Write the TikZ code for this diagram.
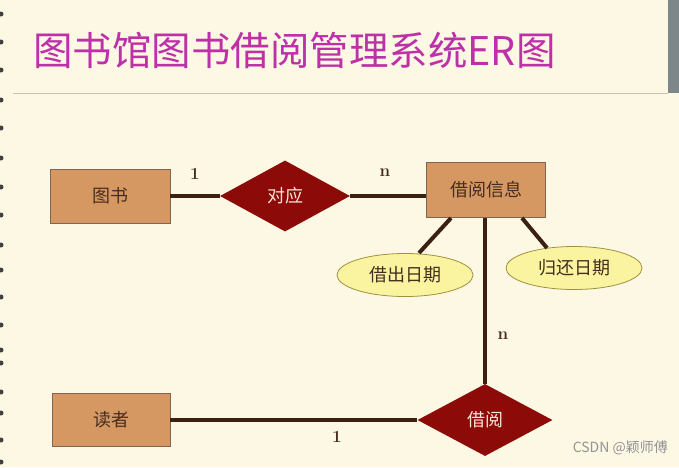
\documentclass[tikz,border=0pt]{standalone}
\usepackage{fontspec}
\newfontfamily\cjk{Noto Sans CJK SC}
\usetikzlibrary{shapes.geometric}
\definecolor{bgc}{RGB}{252,248,228}
\definecolor{titlec}{RGB}{190,48,168}
\definecolor{rulec}{RGB}{200,196,172}
\definecolor{entfill}{RGB}{214,152,98}
\definecolor{entdraw}{RGB}{130,100,80}
\definecolor{relfill}{RGB}{140,10,8}
\definecolor{reltext}{RGB}{248,228,215}
\definecolor{attfill}{RGB}{250,244,160}
\definecolor{attdraw}{RGB}{160,145,60}
\definecolor{linec}{RGB}{60,32,18}
\definecolor{textc}{RGB}{70,45,30}
\definecolor{stripc}{RGB}{125,135,138}
\tikzset{
  entity/.style={draw=entdraw, line width=0.8pt, fill=entfill, minimum width=#1, minimum height=54pt, inner sep=0pt, font=\cjk\fontsize{18}{20}\selectfont, text=textc},
  relation/.style={diamond, aspect=1.83, draw=none, fill=relfill, minimum width=132pt, minimum height=72pt, inner sep=0pt, font=\cjk\fontsize{18}{20}\selectfont, text=reltext},
  attribute/.style={ellipse, draw=attdraw, line width=0.8pt, fill=attfill, minimum width=136pt, minimum height=43pt, inner sep=0pt, font=\cjk\fontsize{18}{20}\selectfont, text=textc},
  conn/.style={draw=linec, line width=4pt},
  card/.style={font=\bfseries\fontsize{17}{18}\selectfont, text=textc, inner sep=0pt},
  dot/.style={fill=black!75, circle, inner sep=0pt, minimum size=5pt}
}
\begin{document}
\begin{tikzpicture}[x=1pt,y=-1pt]
\fill[bgc] (0,0) rectangle (679,467);
\useasboundingbox (0,0) rectangle (679,467);
% screenshot strip top right
\fill[stripc] (668,0) rectangle (679,93);
% binder dots
\foreach \yy in {14,42,70,100,128,158,187,215,245,270,297,325,350,363,392,413,440,462}
  \node[dot] at (1,\yy) {};
% title
\node[anchor=west, inner sep=0pt, text=titlec, font=\cjk\fontsize{39.5}{41}\selectfont] (title) at (33,50) {图书馆图书借阅管理系统ER图};
\draw[rulec, line width=1pt] (13,93) -- (668,93);
% entities
\node[entity=120pt] (book) at (110,196) {图书};
\node[entity=119pt, minimum height=55pt] (info) at (486,190) {借阅信息};
\node[entity=118pt, minimum height=53pt] (reader) at (111,420) {读者};
% relations
\node[relation, minimum width=130pt, minimum height=71pt] (dui) at (285,196) {对应};
\node[relation, minimum width=135pt, minimum height=72pt] (jy) at (485,420) {借阅};
% attributes
\node[attribute] (out) at (405,275) {借出日期};
\node[attribute] (ret) at (574,268) {归还日期};
% connectors
\coordinate (a1) at (451,218);
\coordinate (a2) at (522,218);
\coordinate (o1) at (419,253);
\coordinate (r1) at (547,248);
\draw[conn] (book.east) -- (dui.west);
\draw[conn] (dui.east) -- (info.west |- dui.east);
\draw[conn] (a1) -- (o1);
\draw[conn] (a2) -- (r1);
\draw[conn] (info.south -| jy.north) -- (jy.north);
\draw[conn] (reader.east) -- (jy.west);
% cardinalities
\node[card] (c1) at (195,174) {1};
\node[card] (c2) at (385,173) {n};
\node[card] (c3) at (503,336) {n};
\node[card] (c4) at (337,437) {1};
% watermark
\node[anchor=east, inner sep=0pt, text=gray!85, font=\cjk\fontsize{14}{15}\selectfont] (wm) at (668,448) {CSDN @颖师傅};
\end{tikzpicture}
\end{document}
